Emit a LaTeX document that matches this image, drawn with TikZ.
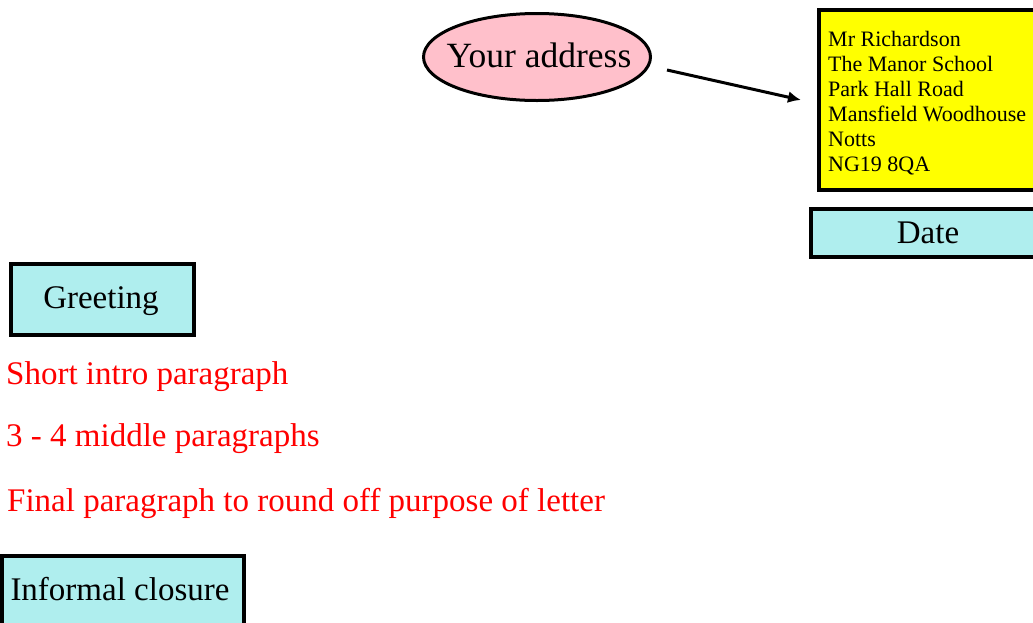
\documentclass[tikz,border=0pt]{standalone}
\usepackage{fontspec}
\setmainfont{Liberation Serif}
\usetikzlibrary{shapes.geometric,arrows.meta}
\definecolor{pinkfill}{RGB}{255,192,203}
\definecolor{turq}{RGB}{175,238,238}
\definecolor{addryellow}{RGB}{255,255,0}
\definecolor{redtext}{RGB}{255,0,0}
\begin{document}
\begin{tikzpicture}[x=1pt,y=-1pt,
  bigtext/.style={inner sep=0pt,font=\fontsize{33}{38}\selectfont},
  redline/.style={bigtext,text=redtext,anchor=base west},
  labelframe/.style={draw=black,line width=3.5pt,fill=turq},
  ]
\useasboundingbox (0,0) rectangle (1033,622);
% ellipse
\node[ellipse,draw=black,line width=3pt,fill=pinkfill,minimum width=227pt,minimum height=87pt,inner sep=0pt] (addr) at (537,57) {};
\node[anchor=base,inner sep=0pt,font=\fontsize{35.5}{40}\selectfont] (addrtext) at (539,67) {Your address};
% yellow box
\draw[line width=4pt,fill=addryellow] (819,10) rectangle (1045,190);
\node[anchor=base west,inner sep=0pt,align=left,font=\fontsize{22}{25}\selectfont] (recip) at (828,171) {Mr Richardson\\The Manor School\\Park Hall Road\\Mansfield Woodhouse\\Notts\\NG19 8QA};
\coordinate (arrowend) at (801,100);
\coordinate (arrowstart) at (667,70);
\draw[line width=3pt,-{Latex[length=13pt,width=12pt]}] (arrowstart) -- (arrowend);
% date
\draw[labelframe] (811,209) rectangle (1045,257);
\node[bigtext,anchor=base] (date) at (928,243) {Date};
% greeting
\draw[labelframe] (11,264) rectangle (194,335);
\node[bigtext,anchor=base] (greet) at (101,308) {Greeting};
% red text
\node[redline] (intro) at (6,384) {Short intro paragraph};
\node[redline] (middle) at (6,446) {3 - 4 middle paragraphs};
\node[redline] (final) at (7,511) {Final paragraph to round off purpose of letter};
% closure
\draw[labelframe] (2,556) rectangle (244,640);
\node[bigtext,anchor=base] (closure) at (120,600) {Informal closure};
\end{tikzpicture}
\end{document}
